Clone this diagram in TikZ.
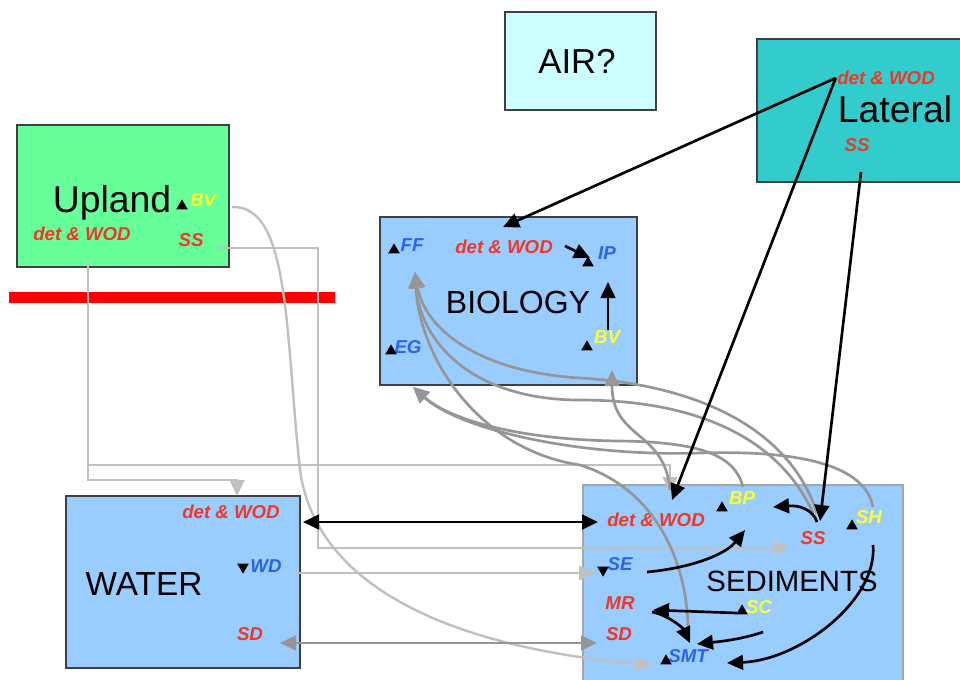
\documentclass[tikz,border=0pt]{standalone}
\usepackage{fontspec}
\setmainfont{Liberation Sans}
\usetikzlibrary{arrows.meta,calc,fit,shapes.geometric}
\definecolor{upgreen}{RGB}{102,255,153}
\definecolor{latteal}{RGB}{51,204,204}
\definecolor{airblue}{RGB}{204,255,255}
\definecolor{boxblue}{RGB}{153,204,255}
\definecolor{lred}{RGB}{240,55,40}
\definecolor{lblue}{RGB}{40,100,240}
\definecolor{lyellow}{RGB}{255,255,51}
\definecolor{darkgrey}{RGB}{150,150,150}
\definecolor{litegrey}{RGB}{192,192,192}

\begin{document}
\begin{tikzpicture}[x=0.75pt,y=-0.75pt,>={Triangle[length=12pt,width=11pt]},
  box/.style={draw=black!75,line width=0.8pt,inner sep=0pt},
  big/.style={anchor=base,font=\fontsize{#1}{#1}\selectfont},
  lbl/.style={text=#1,inner sep=1pt,font=\fontsize{14}{16}\selectfont\bfseries\itshape},
  stub/.style={regular polygon,regular polygon sides=3,fill=black,inner sep=0pt,minimum size=10pt},
  blkarrow/.style={draw=black,line width=2pt},
  greyarrow/.style={draw=darkgrey,line width=2pt},
  litearrow/.style={draw=litegrey,line width=1.8pt}]
  \useasboundingbox (0,0) rectangle (960,679);
  \fill[white] (0,0) rectangle (960,679);

  % compartments
  \node[box,fill=upgreen,fit={(17,125)(229,267)}] (upland) {};
  \node[box,fill=airblue,fit={(505,12)(656,110)}] (air) {};
  \node[box,fill=latteal,fit={(757,39)(966,182)}] (lateral) {};
  \node[box,fill=boxblue,fit={(380,217)(637,385)}] (biology) {};
  \node[box,fill=boxblue,fit={(66,496)(300,668)}] (water) {};
  \node[box,fill=boxblue,draw=black!35,fit={(583,485)(903,686)}] (sediments) {};
  \node[fill=red,inner sep=0pt,fit={(9,292)(335,303)}] (border) {};

  \node[big=28] (uplandt) at (112,212) {Upland};
  \node[big=26] (airt) at (577,73) {AIR?};
  \node[big=28] (latt) at (895,122) {Lateral};
  \node[big=24] (biot) at (518,313) {BIOLOGY};
  \node[big=25] (watt) at (144,595) {WATER};
  \node[big=22] (sedt) at (792,591) {SEDIMENTS};

  % pools
  \node[lbl=lred] (udet) at (82,234) {det \& WOD};
  \node[lbl=lred] (uss) at (191,240) {SS};
  \node[lbl=lyellow] (ubv) at (203,200) {BV};
  \node[lbl=lred] (latdet) at (886,78) {det \& WOD};
  \node[lbl=lred] (latss) at (857,145) {SS};
  \node[lbl=lblue] (ff) at (412,245) {FF};
  \node[lbl=lred] (biodet) at (504,247) {det \& WOD};
  \node[lbl=lblue] (ip) at (607,253) {IP};
  \node[lbl=lyellow] (bbv) at (607,337) {BV};
  \node[lbl=lblue] (eg) at (408,347) {EG};
  \node[lbl=lred] (watdet) at (231,512) {det \& WOD};
  \node[lbl=lblue] (wd) at (266,566) {WD};
  \node[lbl=lred] (wsd) at (250,634) {SD};
  \node[lbl=lred] (seddet) at (656,520) {det \& WOD};
  \node[lbl=lyellow] (bp) at (742,498) {BP};
  \node[lbl=lred] (sedss) at (813,538) {SS};
  \node[lbl=lyellow] (sh) at (869,517) {SH};
  \node[lbl=lblue] (se) at (620,564) {SE};
  \node[lbl=lred] (mr) at (620,603) {MR};
  \node[lbl=lyellow] (sc) at (759,607) {SC};
  \node[lbl=lred] (ssd) at (619,634) {SD};
  \node[lbl=lblue] (smt) at (688,656) {SMT};

  \foreach \n/\dx/\dy/\r in {ubv/-21/6/0, ff/-18/5/0, ip/-19/10/0, bbv/-20/10/0, eg/-17/4/0,
    wd/-23/1/180, bp/-20/10/0, sh/-17/9/0, se/-17/6/180, sc/-17/4/0, smt/-22/5/0}
    \node[stub,rotate=\r] (\n-tip) at ($(\n)+(\dx,\dy)$) {};

  % upland and water fluxes
  \draw[litearrow,->] ($(udet)+(6,28)$) |- ($(watdet)+(6,-32)$) -- ($(watdet)+(6,-16)$);
  \draw[litearrow,->] ($(udet)+(6,28)$) |- ($(seddet)+(14,-55)$) -- ($(seddet)+(14,-27)$);
  \draw[litearrow,->] ($(uss)+(27,8)$) -- ++(100,0) |- ($(sedss)+(-23,10)$);
  \draw[litearrow,->] ($(ubv)+(29,7)$) .. controls (290,205) and (285,330) .. (300,470)
    .. controls (318,600) and (480,650) .. ($(smt)+(-36,9)$);
  \draw[litearrow,->] ($(wd)+(28,7)$) -- ($(se)+(-25,9)$);
  \draw[greyarrow,<->] ($(wsd)+(30,9)$) -- ($(ssd)+(-22,9)$);

  % sediments to biology
  \draw[greyarrow,->] ($(smt)+(0,-18)$) .. controls (690,570) and (660,490) .. (580,465)
    .. controls (480,450) and (420,360) .. ($(ff)+(3,27)$);
  \draw[greyarrow,->] ($(sedss)+(4,-25)$) .. controls (790,430) and (700,385) .. (580,378)
    .. controls (480,372) and (425,330) .. ($(ff)+(3,27)$);
  \draw[greyarrow,->] ($(sedss)+(0,-25)$) .. controls (780,440) and (700,400) .. (580,400)
    .. controls (470,400) and (420,340) .. ($(ff)+(3,27)$);
  \draw[greyarrow,->] ($(seddet)+(14,-30)$) .. controls (665,430) and (612,440) .. ($(bbv)+(5,33)$);
  \draw[greyarrow,->] ($(bp)+(1,-11)$) .. controls (735,455) and (700,442) .. (620,441)
    .. controls (520,440) and (450,420) .. ($(eg)+(5,40)$);
  \draw[greyarrow,->] ($(sh)+(4,-10)$) .. controls (865,465) and (800,450) .. (700,453)
    .. controls (580,457) and (460,430) .. ($(eg)+(5,40)$);

  % lateral inputs and exchanges
  \draw[blkarrow,->] (latdet.west) -- ($(biodet)+(-1,-20)$);
  \draw[blkarrow,->] (latdet.west) -- ($(seddet)+(16,-20)$);
  \draw[blkarrow,->] ($(latss)+(4,27)$) -- ($(sedss)+(7,-17)$);
  \draw[blkarrow,<->] ($(watdet)+(72,10)$) -- ($(seddet)+(-58,2)$);
  \draw[blkarrow,->] ($(biodet)+(61,-1)$) -- ($(ip)+(-17,5)$);
  \draw[blkarrow,->] ($(bbv)+(1,-7)$) -- ($(ip)+(1,29)$);
  \draw[blkarrow,->] ($(sedss)+(4,-16)$) .. controls (813,510) and (800,505) .. ($(sedss)+(-40,-31)$);
  \draw[blkarrow,->] ($(se)+(27,8)$) .. controls (690,568) and (725,555) .. ($(bp)+(3,32)$);
  \draw[blkarrow,->] ($(sc)+(-22,6)$) -- ($(mr)+(33,7)$);
  \draw[blkarrow,->] ($(mr)+(32,9)$) .. controls (668,615) and (683,628) .. ($(smt)+(2,-13)$);
  \draw[blkarrow,->] ($(sc)+(4,25)$) .. controls (740,640) and (715,642) .. ($(smt)+(9,-12)$);
  \draw[blkarrow,->] ($(sh)+(4,28)$) .. controls (878,600) and (800,660) .. ($(smt)+(39,7)$);
\end{tikzpicture}
\end{document}
